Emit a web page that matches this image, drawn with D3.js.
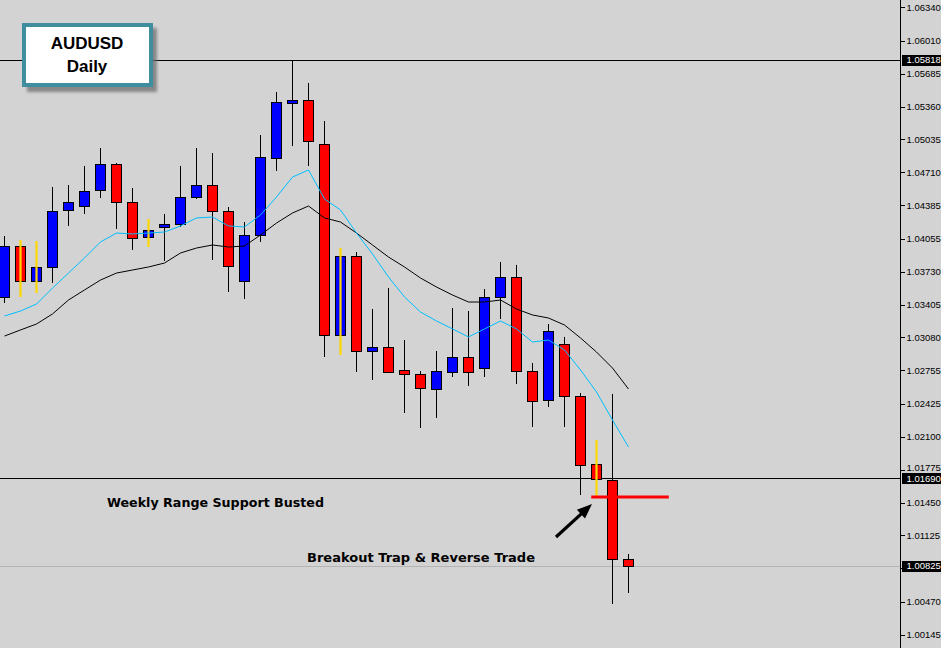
<!DOCTYPE html>
<html><head><meta charset="utf-8">
<script src="https://cdn.jsdelivr.net/npm/d3@7"></script>
<style>
html,body{margin:0;padding:0;background:#d3d3d3;}
svg{display:block;}
</style></head><body>
<svg id="chart" width="941" height="648"></svg>
<script>
// ---- data (AUDUSD daily) ----
const bars = d3.range(40);
const opens  = [1.03480,1.03983,1.03637,1.03776,1.04339,1.04378,1.04536,1.04793,1.04418,1.04072,
                1.04171,1.04200,1.04467,1.04585,1.04329,1.03637,1.04092,1.04852,1.05395,1.05425,
                1.04990,1.03104,1.03884,1.02946,1.02986,1.02759,1.02719,1.02571,1.02739,1.02887,
                1.02778,1.03480,1.03677,1.02749,1.02462,1.03015,1.02502,1.01831,1.01673,1.00893];
const highs  = [1.04082,1.04042,1.04032,1.04566,1.04585,1.04773,1.04951,1.04803,1.04556,1.04250,
                1.04299,1.04773,1.04951,1.04901,1.04368,1.04220,1.05079,1.05504,1.05818,1.05593,
                1.05217,1.03963,1.03924,1.03361,1.03568,1.03055,1.02749,1.02946,1.03371,1.03341,
                1.03558,1.03825,1.03796,1.02828,1.03213,1.03085,1.02532,1.02067,1.02522,1.00942];
const lows   = [1.03420,1.03480,1.03519,1.03618,1.04181,1.04299,1.04457,1.04151,1.03944,1.03973,
                1.03835,1.04171,1.04447,1.03845,1.03529,1.03460,1.04023,1.04724,1.04970,1.04773,
                1.02887,1.02907,1.02739,1.02660,1.02739,1.02334,1.02186,1.02285,1.02690,1.02601,
                1.02690,1.03262,1.02620,1.02196,1.02393,1.02196,1.01524,1.01505,1.00448,1.00557];
const closes = [1.03983,1.03637,1.03776,1.04329,1.04418,1.04526,1.04793,1.04418,1.04062,1.04141,
                1.04200,1.04467,1.04585,1.04329,1.03786,1.04092,1.04862,1.05405,1.05425,1.05020,
                1.03104,1.03884,1.02946,1.02986,1.02739,1.02719,1.02581,1.02749,1.02887,1.02739,
                1.03480,1.03677,1.02749,1.02453,1.03144,1.02502,1.01821,1.01682,1.00893,1.00823];
const highlighted = [1,2,9,21,37];
const maFast = [1.03292,1.03341,1.03410,1.03568,1.03716,1.03865,1.04023,1.04111,1.04102,1.04111,
                1.04121,1.04181,1.04260,1.04269,1.04181,1.04171,1.04289,1.04467,1.04664,1.04734,
                1.04447,1.04339,1.04111,1.03904,1.03677,1.03480,1.03331,1.03243,1.03164,1.03085,
                1.03164,1.03243,1.03164,1.03035,1.03055,1.02956,1.02759,1.02541,1.02265,1.01998];
const maSlow = [1.03094,1.03154,1.03213,1.03312,1.03450,1.03549,1.03647,1.03716,1.03746,1.03776,
                1.03815,1.03914,1.03963,1.03993,1.03973,1.03983,1.04092,1.04210,1.04309,1.04378,
                1.04260,1.04220,1.04111,1.03993,1.03874,1.03776,1.03667,1.03578,1.03499,1.03430,
                1.03430,1.03450,1.03361,1.03302,1.03272,1.03203,1.03075,1.02936,1.02778,1.02571];
const tickValues = [1.06340,1.06010,1.05685,1.05360,1.05035,1.04710,1.04385,1.04055,1.03730,1.03405,
                    1.03080,1.02755,1.02425,1.02100,1.01775,1.01450,1.01125,1.00800,1.00470,1.00145];
const hiddenTickLabels = [1.00800];
const levelLines = [1.05818, 1.01690];
const currentPrice = 1.00825;
const tradeLevel = 1.01505;
const titleLines = ["AUDUSD", "Daily"];
const notes = ["Weekly Range Support Busted", "Breakout Trap & Reverse Trade"];

// ---- chart ----
const svg = d3.select("#chart");
const W = 941, H = 648, axisX = 900;
const x = d3.scaleLinear().domain([0, 39]).range([4, 628]);
const y = d3.scaleLinear().domain([1.00145, 1.06340]).range([634.7, 7.3]);
const px = v => Math.round(v);

svg.append("rect").attr("width", W).attr("height", H).attr("fill", "#d3d3d3");

// level lines
svg.append("line").attr("x1", 0).attr("x2", axisX).attr("y1", px(y(currentPrice)) + 0.5).attr("y2", px(y(currentPrice)) + 0.5)
  .attr("stroke", "#b4b4b4").attr("stroke-width", 1);
svg.selectAll("line.level").data(levelLines).join("line").attr("class", "level")
  .attr("x1", 0).attr("x2", axisX).attr("y1", d => px(y(d)) + 0.5).attr("y2", d => px(y(d)) + 0.5)
  .attr("stroke", "#000").attr("stroke-width", 1);

// candles
const g = svg.append("g");
bars.forEach(i => {
  const cx = px(x(i));
  const isHL = highlighted.includes(i);
  const up = closes[i] >= opens[i];
  if (!isHL) {
    g.append("line").attr("x1", cx + 0.5).attr("x2", cx + 0.5)
      .attr("y1", y(highs[i])).attr("y2", y(lows[i])).attr("stroke", "#000").attr("stroke-width", 1);
  }
  const top = px(y(Math.max(opens[i], closes[i])));
  const bot = px(y(Math.min(opens[i], closes[i])));
  g.append("rect").attr("x", cx - 5 + 0.5).attr("y", top + 0.5)
    .attr("width", 10).attr("height", Math.max(1, bot - top))
    .attr("fill", up ? "#0000ff" : "#ff0000").attr("stroke", "#000").attr("stroke-width", 1);
  if (isHL) {
    g.append("line").attr("x1", cx + 0.5).attr("x2", cx + 0.5)
      .attr("y1", y(highs[i])).attr("y2", y(lows[i])).attr("stroke", "#ffd700").attr("stroke-width", 2.2);
  }
});

// moving averages
const line = d3.line().x((d, i) => px(x(i)) + 0.5).y(d => y(d));
svg.append("path").attr("d", line(maSlow)).attr("fill", "none").attr("stroke", "#000").attr("stroke-width", 1);
svg.append("path").attr("d", line(maFast)).attr("fill", "none").attr("stroke", "#00bfff").attr("stroke-width", 1);

// trade level (red)
svg.append("line").attr("x1", x(36.7)).attr("x2", x(41.55))
  .attr("y1", y(tradeLevel)).attr("y2", y(tradeLevel)).attr("stroke", "#ff0000").attr("stroke-width", 3);

// arrow
const ax0 = x(34.5), ay0 = y(1.01110), ax1 = x(36.75), ay1 = y(1.01436);
const ang = Math.atan2(ay1 - ay0, ax1 - ax0);
const hl = 15, hw = 6;
const bx = ax1 - hl * Math.cos(ang), by = ay1 - hl * Math.sin(ang);
svg.append("line").attr("x1", ax0).attr("y1", ay0).attr("x2", bx + 3 * Math.cos(ang)).attr("y2", by + 3 * Math.sin(ang))
  .attr("stroke", "#000").attr("stroke-width", 3.2);
svg.append("path").attr("d", `M${ax1},${ay1}L${bx - hw * Math.sin(ang)},${by + hw * Math.cos(ang)}L${bx + hw * Math.sin(ang)},${by - hw * Math.cos(ang)}Z`)
  .attr("fill", "#000");

// annotations
svg.append("text").attr("x", 107).attr("y", 507).attr("textLength", 217).attr("lengthAdjust", "spacingAndGlyphs")
  .attr("font-family", "DejaVu Sans, sans-serif").attr("font-weight", "bold").attr("font-size", "12.5px")
  .attr("fill", "#000").text(notes[0]);
svg.append("text").attr("x", 307).attr("y", 562).attr("textLength", 228).attr("lengthAdjust", "spacingAndGlyphs")
  .attr("font-family", "DejaVu Sans, sans-serif").attr("font-weight", "bold").attr("font-size", "12.5px")
  .attr("fill", "#000").text(notes[1]);

// title box
const defs = svg.append("defs");
defs.append("filter").attr("id", "blur").append("feGaussianBlur").attr("stdDeviation", 1.6);
svg.append("rect").attr("x", 27).attr("y", 28).attr("width", 130).attr("height", 64)
  .attr("fill", "#6e6e6e").attr("opacity", 0.75).attr("filter", "url(#blur)");
svg.append("rect").attr("x", 24).attr("y", 25).attr("width", 127).attr("height", 60)
  .attr("fill", "#fff").attr("stroke", "#3f8ea0").attr("stroke-width", 4);
svg.append("text").attr("x", 87).attr("y", 48.5).attr("text-anchor", "middle")
  .attr("font-family", "Liberation Sans, Arial, sans-serif").attr("font-weight", "bold").attr("font-size", "17px")
  .attr("fill", "#000").text(titleLines[0]);
svg.append("text").attr("x", 87).attr("y", 72).attr("text-anchor", "middle")
  .attr("font-family", "Liberation Sans, Arial, sans-serif").attr("font-weight", "bold").attr("font-size", "17px")
  .attr("fill", "#000").text(titleLines[1]);

// right axis
const fmt = d3.format(".5f");
const axis = d3.axisRight(y).tickValues(tickValues).tickSize(4).tickPadding(2)
  .tickFormat(d => hiddenTickLabels.includes(d) ? "" : fmt(d));
const ag = svg.append("g").attr("transform", `translate(${axisX + 0.5},0)`).call(axis);
ag.select(".domain").remove();
ag.selectAll("line").attr("stroke", "#000").attr("shape-rendering", "crispEdges");
ag.selectAll("text").attr("font-family", "Liberation Sans, Arial, sans-serif").attr("font-size", "9.5px").attr("fill", "#000")
  .attr("dy", d => d === 1.01775 ? "0.1em" : "0.32em");
svg.append("line").attr("x1", axisX + 0.5).attr("x2", axisX + 0.5).attr("y1", 0).attr("y2", H).attr("stroke", "#000");

// price labels
const labels = [...levelLines, currentPrice];
labels.forEach(v => {
  const cy = y(v);
  svg.append("rect").attr("x", 902).attr("y", Math.round(cy) - 5).attr("width", 39).attr("height", 11).attr("fill", "#000");
  svg.append("text").attr("x", 906.5).attr("y", cy).attr("dy", "0.35em")
    .attr("font-family", "Liberation Sans, Arial, sans-serif").attr("font-size", "9.5px").attr("fill", "#fff")
    .text(fmt(v));
});
</script>
</body></html>
